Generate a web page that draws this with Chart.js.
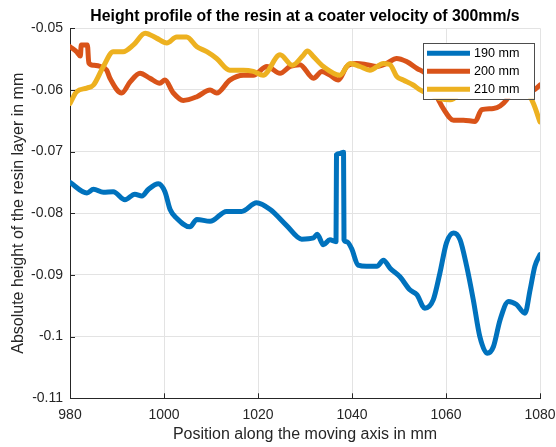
<!DOCTYPE html>
<html>
<head>
<meta charset="utf-8">
<script src="https://cdn.jsdelivr.net/npm/chart.js@4.4.1/dist/chart.umd.min.js"></script>
<style>
  html, body { margin: 0; padding: 0; background: #fff; }
  #chart { display: block; }
</style>
</head>
<body>
<canvas id="chart" width="556" height="447"></canvas>
<script>
"use strict";

const TITLE = "Height profile of the resin at a coater velocity of 300mm/s";
const X_LABEL = "Position along the moving axis in mm";
const Y_LABEL = "Absolute height of the resin layer in mm";

const X_TICKS = [980, 1000, 1020, 1040, 1060, 1080];
const X_TICK_LABELS = ["980", "1000", "1020", "1040", "1060", "1080"];
const Y_TICKS = [-0.11, -0.1, -0.09, -0.08, -0.07, -0.06, -0.05];
const Y_TICK_LABELS = ["-0.11", "-0.1", "-0.09", "-0.08", "-0.07", "-0.06", "-0.05"];

const SERIES_LABELS = ["190 mm", "200 mm", "210 mm"];
const SERIES_COLORS = ["#0072BD", "#D95319", "#EDB120"];

// 190 mm
const X_190 = [980.0, 983.6, 985.0, 987.1, 989.2, 991.7, 993.8, 995.3, 996.7, 998.8, 1000.2, 1001.3, 1002.7, 1005.5, 1007.0, 1009.8, 1013.3, 1016.5, 1019.7, 1022.6, 1026.1, 1029.3, 1031.8, 1032.6, 1033.9, 1035.3, 1036.6, 1036.7, 1037.4, 1038.2, 1038.3, 1038.9, 1039.9, 1041.3, 1043.1, 1045.3, 1046.7, 1048.1, 1050.2, 1052.3, 1053.8, 1055.5, 1057.3, 1058.7, 1060.1, 1061.6, 1063.0, 1064.4, 1065.8, 1067.2, 1068.8, 1070.1, 1071.5, 1073.3, 1075.0, 1076.8, 1077.9, 1078.9, 1080.0];
const Y_190 = [-0.0750, -0.0767, -0.0761, -0.0766, -0.0765, -0.0778, -0.0769, -0.0772, -0.0761, -0.0752, -0.0765, -0.0794, -0.0808, -0.0822, -0.0810, -0.0813, -0.0797, -0.0797, -0.0783, -0.0794, -0.0820, -0.0842, -0.0840, -0.0834, -0.0851, -0.0843, -0.0846, -0.0705, -0.0703, -0.0701, -0.0843, -0.0846, -0.0857, -0.0884, -0.0886, -0.0886, -0.0876, -0.0889, -0.0903, -0.0924, -0.0932, -0.0954, -0.0940, -0.0897, -0.0848, -0.0832, -0.0843, -0.0886, -0.0940, -0.1000, -0.1027, -0.1016, -0.0973, -0.0943, -0.0948, -0.0962, -0.0924, -0.0886, -0.0867];

// 200 mm
const X_200 = [980.0, 981.4, 982.2, 982.4, 983.7, 984.0, 985.0, 986.5, 987.8, 988.5, 991.0, 992.8, 994.9, 997.0, 999.1, 1000.2, 1002.0, 1004.1, 1007.0, 1009.8, 1011.2, 1014.0, 1016.9, 1019.0, 1021.9, 1024.7, 1026.8, 1028.9, 1031.8, 1033.6, 1035.3, 1037.1, 1038.9, 1041.0, 1043.1, 1045.3, 1047.4, 1049.5, 1051.6, 1053.8, 1055.9, 1057.0, 1058.4, 1059.4, 1061.6, 1063.7, 1066.2, 1067.6, 1070.1, 1072.9, 1074.3, 1076.4, 1078.6, 1080.0];
const Y_200 = [-0.0530, -0.0538, -0.0545, -0.0527, -0.0527, -0.0556, -0.0560, -0.0562, -0.0568, -0.0581, -0.0605, -0.0587, -0.0573, -0.0581, -0.0589, -0.0584, -0.0605, -0.0617, -0.0611, -0.0600, -0.0605, -0.0584, -0.0576, -0.0576, -0.0562, -0.0573, -0.0562, -0.0559, -0.0581, -0.0570, -0.0576, -0.0584, -0.0562, -0.0557, -0.0559, -0.0562, -0.0557, -0.0549, -0.0554, -0.0565, -0.0576, -0.0595, -0.0616, -0.0630, -0.0649, -0.0649, -0.0651, -0.0632, -0.0630, -0.0616, -0.0595, -0.0587, -0.0600, -0.0592];

// 210 mm
const X_210 = [980.0, 981.4, 983.6, 985.0, 987.1, 989.2, 991.3, 993.5, 996.0, 998.4, 1000.6, 1002.7, 1004.8, 1007.0, 1009.1, 1011.2, 1014.0, 1016.9, 1019.0, 1021.1, 1024.7, 1027.3, 1029.5, 1030.5, 1031.8, 1033.9, 1037.4, 1039.6, 1041.7, 1043.8, 1046.7, 1048.1, 1049.5, 1050.9, 1053.0, 1054.5, 1058.7, 1060.9, 1064.0, 1068.0, 1072.0, 1075.5, 1077.2, 1078.6, 1080.0];
const Y_210 = [-0.0622, -0.0603, -0.0597, -0.0592, -0.0562, -0.0538, -0.0538, -0.0527, -0.0508, -0.0516, -0.0524, -0.0514, -0.0514, -0.0530, -0.0538, -0.0549, -0.0568, -0.0568, -0.0570, -0.0576, -0.0543, -0.0560, -0.0545, -0.0537, -0.0546, -0.0562, -0.0576, -0.0557, -0.0562, -0.0568, -0.0557, -0.0559, -0.0578, -0.0584, -0.0592, -0.0600, -0.0614, -0.0616, -0.0600, -0.0595, -0.0598, -0.0598, -0.0603, -0.0622, -0.0652];

const FONT = "'Liberation Sans', Arial, Helvetica, sans-serif";
const AXIS_COLOR = "#262626";
const GRID_COLOR = "#e3e3e3";

const toPoints = (xs, ys) => xs.map((x, i) => ({ x, y: ys[i] }));

// MATLAB-style ticks pointing into the plot
const inwardTicks = {
  id: "inwardTicks",
  afterDraw(chart) {
    const { ctx, chartArea, scales } = chart;
    ctx.save();
    ctx.strokeStyle = AXIS_COLOR;
    ctx.lineWidth = 1;
    ctx.beginPath();
    X_TICKS.forEach((v) => {
      const x = Math.round(scales.x.getPixelForValue(v)) + 0.5;
      ctx.moveTo(x, chartArea.bottom);
      ctx.lineTo(x, chartArea.bottom - 5);
    });
    Y_TICKS.forEach((v) => {
      const y = Math.round(scales.y.getPixelForValue(v)) + 0.5;
      ctx.moveTo(chartArea.left, y);
      ctx.lineTo(chartArea.left + 5, y);
    });
    ctx.stroke();
    ctx.restore();
  },
};

// boxed legend in the upper right corner of the axes
const boxLegend = {
  id: "boxLegend",
  afterDraw(chart) {
    const { ctx, chartArea } = chart;
    const w = 111, h = 56;
    const left = chartArea.right - 6 - w;
    const top = chartArea.top + 14.5;
    ctx.save();
    ctx.fillStyle = "#fff";
    ctx.fillRect(left, top, w, h);
    ctx.strokeStyle = "#4d4d4d";
    ctx.lineWidth = 1;
    ctx.strokeRect(Math.round(left) + 0.5, Math.round(top) + 0.5, w, h);
    ctx.font = "12.6px " + FONT;
    ctx.textBaseline = "middle";
    ctx.textAlign = "left";
    chart.data.datasets.forEach((ds, i) => {
      const y = top + 10.5 + i * 18;
      ctx.strokeStyle = ds.borderColor;
      ctx.lineWidth = 5;
      ctx.beginPath();
      ctx.moveTo(left + 4, y);
      ctx.lineTo(left + 47, y);
      ctx.stroke();
      ctx.fillStyle = "#000";
      ctx.fillText(ds.label, left + 51, y);
    });
    ctx.restore();
  },
};

Chart.defaults.font.family = FONT;

new Chart(document.getElementById("chart"), {
  type: "line",
  data: {
    datasets: [
      { label: SERIES_LABELS[0], data: toPoints(X_190, Y_190), borderColor: SERIES_COLORS[0], order: 2 },
      { label: SERIES_LABELS[1], data: toPoints(X_200, Y_200), borderColor: SERIES_COLORS[1], order: 1 },
      { label: SERIES_LABELS[2], data: toPoints(X_210, Y_210), borderColor: SERIES_COLORS[2], order: 0 },
    ],
  },
  options: {
    responsive: false,
    animation: false,
    devicePixelRatio: 1,
    layout: { padding: { right: 16 } },
    elements: {
      point: { radius: 0 },
      line: { borderWidth: 5, borderJoinStyle: "round", borderCapStyle: "round", cubicInterpolationMode: "monotone" },
    },
    plugins: {
      legend: { display: false },
      tooltip: { enabled: false },
      title: {
        display: true,
        fullSize: false,
        text: TITLE,
        color: "#000",
        font: { size: 15.8, weight: "bold" },
        padding: { top: 7.2, bottom: 2.1 },
      },
    },
    scales: {
      x: {
        type: "linear",
        min: 980,
        max: 1080,
        afterBuildTicks: (s) => { s.ticks = X_TICKS.map((v) => ({ value: v })); },
        afterFit: (s) => { s.height = 48.7; s.paddingLeft = 0; s.paddingRight = 0; },
        grid: { color: GRID_COLOR, drawTicks: false },
        border: { color: AXIS_COLOR, width: 1 },
        ticks: {
          autoSkip: false,
          maxRotation: 0,
          padding: 8.3,
          color: AXIS_COLOR,
          font: { size: 14 },
          callback: (v, i) => X_TICK_LABELS[i],
        },
        title: { display: true, text: X_LABEL, color: AXIS_COLOR, font: { size: 16 }, padding: { top: 0, bottom: 3 } },
      },
      y: {
        min: -0.11,
        max: -0.05,
        afterBuildTicks: (s) => { s.ticks = Y_TICKS.map((v) => ({ value: v })); },
        afterFit: (s) => { s.width = 70; },
        grid: { color: GRID_COLOR, drawTicks: false },
        border: { color: AXIS_COLOR, width: 1 },
        ticks: {
          autoSkip: false,
          padding: 7,
          color: AXIS_COLOR,
          font: { size: 14 },
          callback: (v, i) => Y_TICK_LABELS[i],
        },
        title: { display: true, text: Y_LABEL, color: AXIS_COLOR, font: { size: 16 }, padding: { top: 8.5, bottom: 0 } },
      },
    },
  },
  plugins: [inwardTicks, boxLegend],
});
</script>
</body>
</html>
